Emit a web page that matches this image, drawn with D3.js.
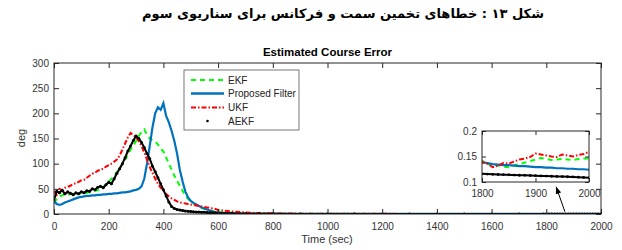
<!DOCTYPE html>
<html lang="en">
<head>
<meta charset="UTF-8">
<title>Estimated Course Error</title>
<script src="https://d3js.org/d3.v7.min.js"></script>
<style>
    body { margin: 0; background: #fff; }
    svg { display: block; font-family: "Liberation Sans", Arial, sans-serif; }
    .axis text { font-size: 10px; fill: #333; }
    .axis line { stroke: #262626; }
    .axis path { display: none; }
</style>
</head>
<body>
<div id="chart"></div>
<script>
// time samples (s)
const tRise = [0,10,20,30,40,50,60,70,80,90,100,110,120,130,140,150,160,170,180,190,200,
    210,220,230,240,250,260,270,280,290,300,310,320,330,340,350,360,370,380,390,400,
    410,420,430,440,450,460,470,480,490,500,510,520,530,540,550,560,570,580,590,600];
const tTail = [650,700,750,800,900,1000,1100,1200,1300,1400,1500,1600,1700,1790];
const tZoom = [1800,1810,1820,1830,1840,1850,1860,1870,1880,1890,1900,
    1910,1920,1930,1940,1950,1960,1970,1980,1990,2000];

// EKF
const ekfRise = [22,30,35,37,40,38,40,41,39,40,41,40,42,43,44,46,47,50,54,58,64,
    70,76,83,90,100,108,118,128,136,145,155,163,168,158,150,146,144,138,130,124,
    112,100,88,76,66,56,46,37,30,25,21,18,15,12,10,9,7,6,5,4];
const ekfTail = [2.5,1.5,0.9,0.6,0.4,0.3,0.25,0.22,0.2,0.18,0.17,0.16,0.15,0.143];
const ekfZoom = [0.142,0.136,0.131,0.133,0.130,0.129,0.133,0.135,0.138,0.141,0.144,
    0.147,0.145,0.143,0.144,0.145,0.144,0.143,0.145,0.146,0.146];

// Proposed Filter
const propRise = [25,20,18,20,23,25,27,29,31,33,34,35,36,36,37,37,38,38,39,39,40,
    40,41,41,42,43,43,44,45,47,48,50,55,70,100,135,172,200,212,207,220,
    195,182,165,145,120,88,65,45,33,26,22,19,16,13,11,9,7,5,4,3];
const propTail = [1.8,1.0,0.6,0.4,0.3,0.25,0.22,0.2,0.18,0.17,0.16,0.15,0.145,0.14];
const propZoom = [0.139,0.137,0.135,0.134,0.133,0.133,0.132,0.131,0.131,0.130,0.129,
    0.129,0.128,0.128,0.127,0.127,0.126,0.126,0.125,0.125,0.124];

// UKF
const ukfRise = [45,38,50,47,52,54,56,60,61,64,67,68,72,76,80,82,86,88,90,94,97,
    100,104,108,116,128,140,152,161,157,152,145,135,122,108,93,82,70,60,52,47,
    40,35,31,28,25,23,22,21,20,19,18,17,16,15,14,13,12,11,10,8];
const ukfTail = [5,3,1.8,1.2,0.7,0.5,0.35,0.28,0.22,0.2,0.18,0.16,0.15,0.14];
const ukfZoom = [0.139,0.136,0.129,0.132,0.137,0.136,0.140,0.144,0.146,0.149,0.156,
    0.154,0.152,0.150,0.149,0.154,0.152,0.150,0.153,0.155,0.159];

// AEKF
const aekfRise = [28,45,42,47,40,44,41,38,42,40,44,42,46,45,50,48,53,55,52,58,63,
    60,70,81,90,100,112,125,135,146,155,150,142,132,120,110,95,84,72,60,48,
    36,24,15,11,9,8,7,6,5.5,5,4.5,4.2,4,3.6,3.3,3,2.7,2.4,2.1,1.8];
const aekfTail = [1.2,0.7,0.4,0.3,0.2,0.16,0.14,0.13,0.125,0.12,0.12,0.118,0.117,0.116];
const aekfZoom = [0.116,0.1155,0.115,0.1147,0.1143,0.114,0.1136,0.1132,0.113,0.1127,0.1124,
    0.112,0.1117,0.1113,0.111,0.1107,0.1103,0.11,0.1095,0.109,0.1085];

const xTicks = [0,200,400,600,800,1000,1200,1400,1600,1800,2000];
const yTicks = [0,50,100,150,200,250,300];
const zxTicks = [1800,1900,2000];
const zyTicks = [0.1,0.15,0.2];

const tAll = tRise.concat(tTail, tZoom);
const zip = (vals) => tAll.map((t, i) => ({ t: t, v: vals[i] }));
const series = [
    { name: 'EKF', color: '#00ff00', width: 2, dash: '5,4', data: zip(ekfRise.concat(ekfTail, ekfZoom)) },
    { name: 'Proposed Filter', color: '#0072bd', width: 2.2, dash: null, data: zip(propRise.concat(propTail, propZoom)) },
    { name: 'UKF', color: '#ff0000', width: 2, dash: '5,2,1.5,2', data: zip(ukfRise.concat(ukfTail, ukfZoom)) },
    { name: 'AEKF', color: '#000000', width: 2, dash: null, dots: true, data: zip(aekfRise.concat(aekfTail, aekfZoom)) }
];

const W = 622, H = 250;
const svg = d3.select('#chart').append('svg').attr('width', W).attr('height', H);

// caption
svg.append('text')
    .attr('x', 343).attr('y', 18)
    .attr('direction', 'rtl')
    .style('font-family', '"DejaVu Sans", sans-serif')
    .style('font-size', '13px')
    .style('font-weight', 'bold')
    .style('text-anchor', 'middle')
    .text('شکل ۱۳ : خطاهای تخمین سمت و فرکانس برای سناریوی سوم');

// main axes
const x = d3.scaleLinear().domain([0, 2000]).range([54, 601]);
const y = d3.scaleLinear().domain([0, 300]).range([214, 63]);
const fmt = d3.format('d');

svg.append('defs').append('clipPath').attr('id', 'clipMain')
  .append('rect').attr('x', 54).attr('y', 63).attr('width', 547).attr('height', 151);

function drawSeries(g, sx, sy, dotR) {
    series.forEach(s => {
        const line = d3.line().x(d => sx(d.t)).y(d => sy(d.v));
        g.append('path')
            .datum(s.data)
            .attr('d', line)
            .attr('fill', 'none')
            .attr('stroke', s.color)
            .attr('stroke-width', s.width)
            .attr('stroke-dasharray', s.dash);
        if (s.dots) {
            g.selectAll(null).data(s.data).enter().append('circle')
                .attr('cx', d => sx(d.t)).attr('cy', d => sy(d.v))
                .attr('r', dotR).attr('fill', s.color);
        }
    });
}

const plot = svg.append('g').attr('clip-path', 'url(#clipMain)');
drawSeries(plot, x, y, 1.5);

svg.append('g').attr('class', 'axis').attr('transform', 'translate(0,214)')
    .call(d3.axisBottom(x).tickValues(xTicks).tickFormat(fmt).tickSizeInner(-5).tickSizeOuter(0).tickPadding(9));
svg.append('g').attr('class', 'axis').attr('transform', 'translate(0,63)')
    .call(d3.axisTop(x).tickValues(xTicks).tickSizeInner(-5).tickSizeOuter(0).tickFormat(''));
svg.append('g').attr('class', 'axis').attr('transform', 'translate(54,0)')
    .call(d3.axisLeft(y).tickValues(yTicks).tickFormat(fmt).tickSizeInner(-5).tickSizeOuter(0).tickPadding(5));
svg.append('g').attr('class', 'axis').attr('transform', 'translate(601,0)')
    .call(d3.axisRight(y).tickValues(yTicks).tickSizeInner(-5).tickSizeOuter(0).tickFormat(''));

svg.append('rect').attr('x', 54).attr('y', 63).attr('width', 547).attr('height', 151)
    .attr('fill', 'none').attr('stroke', '#262626').attr('stroke-width', 1);

// title and labels
svg.append('text').attr('x', 327.5).attr('y', 56)
    .style('font-size', '11.5px').style('font-weight', 'bold').style('text-anchor', 'middle')
    .text('Estimated Course Error');
svg.append('text').attr('x', 327).attr('y', 243)
    .style('font-size', '11px').style('fill', '#333').style('text-anchor', 'middle')
    .text('Time (sec)');
svg.append('text').attr('transform', 'translate(25,138) rotate(-90)')
    .style('font-size', '11px').style('fill', '#333').style('text-anchor', 'middle')
    .text('deg');

// legend
const lg = svg.append('g');
lg.append('rect').attr('x', 184).attr('y', 70).attr('width', 115).attr('height', 60)
    .attr('fill', '#fff').attr('stroke', '#555').attr('stroke-width', 0.8);
const rows = [80, 93.5, 107.5, 121];
series.forEach((s, i) => {
    if (s.dots) {
        lg.append('circle').attr('cx', 207.5).attr('cy', rows[i]).attr('r', 1.3).attr('fill', s.color);
    } else {
        lg.append('line').attr('x1', 191).attr('x2', 224).attr('y1', rows[i]).attr('y2', rows[i])
            .attr('stroke', s.color).attr('stroke-width', s.name === 'Proposed Filter' ? 2.5 : 2)
            .attr('stroke-dasharray', s.dash);
    }
    lg.append('text').attr('x', 228).attr('y', rows[i]).attr('dy', '0.35em')
        .style('font-size', '10px').style('fill', '#222').text(s.name);
});

// zoom inset
const zx = d3.scaleLinear().domain([1800, 2000]).range([482, 589]);
const zy = d3.scaleLinear().domain([0.1, 0.2]).range([182, 131]);
svg.append('rect').attr('x', 482).attr('y', 131).attr('width', 107).attr('height', 51).attr('fill', '#fff');
svg.select('defs').append('clipPath').attr('id', 'clipZoom')
  .append('rect').attr('x', 482).attr('y', 131).attr('width', 107).attr('height', 51);
const inset = svg.append('g').attr('clip-path', 'url(#clipZoom)');
drawSeries(inset, zx, zy, 1.4);

svg.append('g').attr('class', 'axis').attr('transform', 'translate(0,182)')
    .call(d3.axisBottom(zx).tickValues(zxTicks).tickFormat(fmt).tickSizeInner(-4).tickSizeOuter(0).tickPadding(8));
svg.append('g').attr('class', 'axis').attr('transform', 'translate(482,0)')
    .call(d3.axisLeft(zy).tickValues(zyTicks).tickSizeInner(-4).tickSizeOuter(0).tickPadding(5)
        .tickFormat(d3.format('~g')));
svg.append('g').attr('class', 'axis').attr('transform', 'translate(0,131)')
    .call(d3.axisTop(zx).tickValues(zxTicks).tickSizeInner(-4).tickSizeOuter(0).tickFormat(''));
svg.append('g').attr('class', 'axis').attr('transform', 'translate(589,0)')
    .call(d3.axisRight(zy).tickValues(zyTicks).tickSizeInner(-4).tickSizeOuter(0).tickFormat(''));
svg.append('rect').attr('x', 482).attr('y', 131).attr('width', 107).attr('height', 51)
    .attr('fill', 'none').attr('stroke', '#262626').attr('stroke-width', 1);

// arrow pointing at the tail
svg.select('defs').append('marker').attr('id', 'head')
    .attr('viewBox', '0 0 10 10').attr('refX', 10).attr('refY', 5)
    .attr('markerWidth', 7).attr('markerHeight', 7).attr('orient', 'auto')
  .append('path').attr('d', 'M0,1L10,5L0,9Z').attr('fill', '#000');
svg.append('line')
    .attr('x1', x(1868)).attr('y1', y(4.6))
    .attr('x2', x(1836)).attr('y2', y(54))
    .attr('stroke', '#000').attr('stroke-width', 1)
    .attr('marker-end', 'url(#head)');
</script>
</body>
</html>
